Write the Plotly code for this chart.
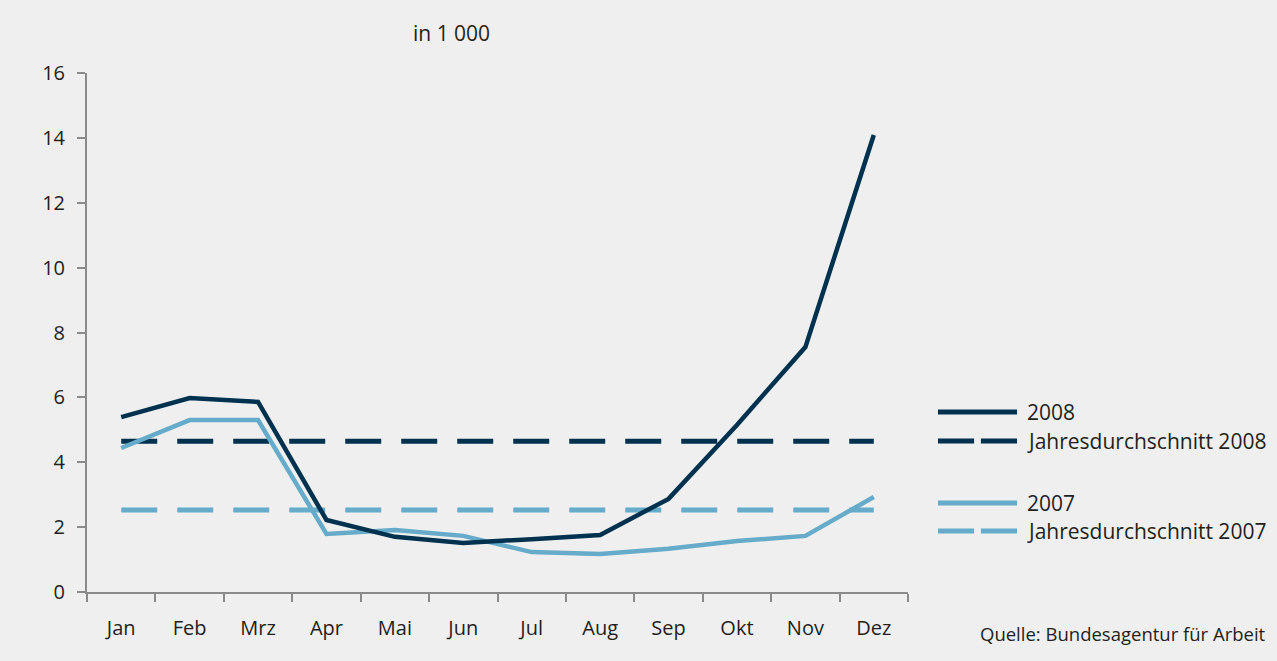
import plotly.graph_objects as go

months = ["Jan", "Feb", "Mrz", "Apr", "Mai", "Jun", "Jul", "Aug", "Sep", "Okt", "Nov", "Dez"]
values_2008 = [5.39, 5.98, 5.86, 2.22, 1.70, 1.51, 1.63, 1.76, 2.87, 5.15, 7.55, 14.09]
values_2007 = [4.44, 5.30, 5.30, 1.79, 1.91, 1.73, 1.23, 1.17, 1.33, 1.57, 1.73, 2.93]
avg_2008 = 4.65
avg_2007 = 2.53
y_ticks = [0, 2, 4, 6, 8, 10, 12, 14, 16]

DARK = "#00314f"
LIGHT = "#66abc9"
BG = "#eeefee"
AXIS = "#8a8a8a"
FONT = "Open Sans"
TXT = "#231f20"

fig = go.Figure()
fig.add_trace(go.Scatter(x=months, y=[avg_2007] * len(months), mode="lines",
                         line=dict(color=LIGHT, width=5, dash="36px,20px"), name="Jahresdurchschnitt 2007"))
fig.add_trace(go.Scatter(x=months, y=[avg_2008] * len(months), mode="lines",
                         line=dict(color=DARK, width=5, dash="36px,20px"), name="Jahresdurchschnitt 2008"))
fig.add_trace(go.Scatter(x=months, y=values_2007, mode="lines",
                         line=dict(color=LIGHT, width=4.5), name="2007"))
fig.add_trace(go.Scatter(x=months, y=values_2008, mode="lines",
                         line=dict(color=DARK, width=4.5), name="2008"))

# custom legend
legend_items = [
    ("2008", DARK, "solid", 0.3468),
    ("Jahresdurchschnitt 2008", DARK, "dash", 0.2909),
    ("2007", LIGHT, "solid", 0.1715),
    ("Jahresdurchschnitt 2007", LIGHT, "dash", 0.1175),
]
x0, x1, xt = 1.0365, 1.1328, 1.143
for label, col, style, yy in legend_items:
    if style == "solid":
        fig.add_shape(type="line", xref="paper", yref="paper", x0=x0, x1=x1, y0=yy, y1=yy,
                      line=dict(color=col, width=5))
    else:
        fig.add_shape(type="line", xref="paper", yref="paper", x0=x0, x1=x0 + 0.044, y0=yy, y1=yy,
                      line=dict(color=col, width=5))
        fig.add_shape(type="line", xref="paper", yref="paper", x0=x1 - 0.044, x1=x1, y0=yy, y1=yy,
                      line=dict(color=col, width=5))
    fig.add_annotation(text=label, xref="paper", yref="paper", x=xt, y=yy, xanchor="left",
                       yanchor="middle", showarrow=False, font=dict(family=FONT, size=21, color=TXT))

fig.add_annotation(text="in 1 000", xref="paper", yref="paper", x=0.444, y=1.077,
                   xanchor="center", yanchor="middle", showarrow=False,
                   font=dict(family=FONT, size=21, color=TXT))
fig.add_annotation(text="Quelle: Bundesagentur für Arbeit", xref="paper", yref="paper",
                   x=1.4385, y=-0.079, xanchor="right", yanchor="middle", showarrow=False,
                   font=dict(family=FONT, size=18.5, color=TXT))

fig.update_layout(
    width=1277, height=661,
    margin=dict(l=87, r=369, t=73, b=69),
    paper_bgcolor=BG, plot_bgcolor=BG,
    showlegend=False,
    font=dict(family=FONT, size=20, color=TXT),
)
fig.update_xaxes(type="category", range=[-0.5, 11.5], showgrid=False, zeroline=False,
                 showline=True, linecolor=AXIS, linewidth=2,
                 ticks="outside", tickson="boundaries", ticklen=8, tickcolor=AXIS, tickwidth=2,
                 ticklabelstandoff=17, tickfont=dict(family=FONT, size=20, color=TXT))
fig.update_yaxes(range=[0, 16], tickvals=y_ticks, showgrid=False, zeroline=False,
                 showline=True, linecolor=AXIS, linewidth=2,
                 ticks="outside", ticklen=8, tickcolor=AXIS, tickwidth=2,
                 ticklabelstandoff=8, tickfont=dict(family=FONT, size=20, color=TXT))

fig.write_html("out.html", config={"displayModeBar": False},
               post_script="document.body.style.margin='0';document.body.style.background='%s';" % BG)
